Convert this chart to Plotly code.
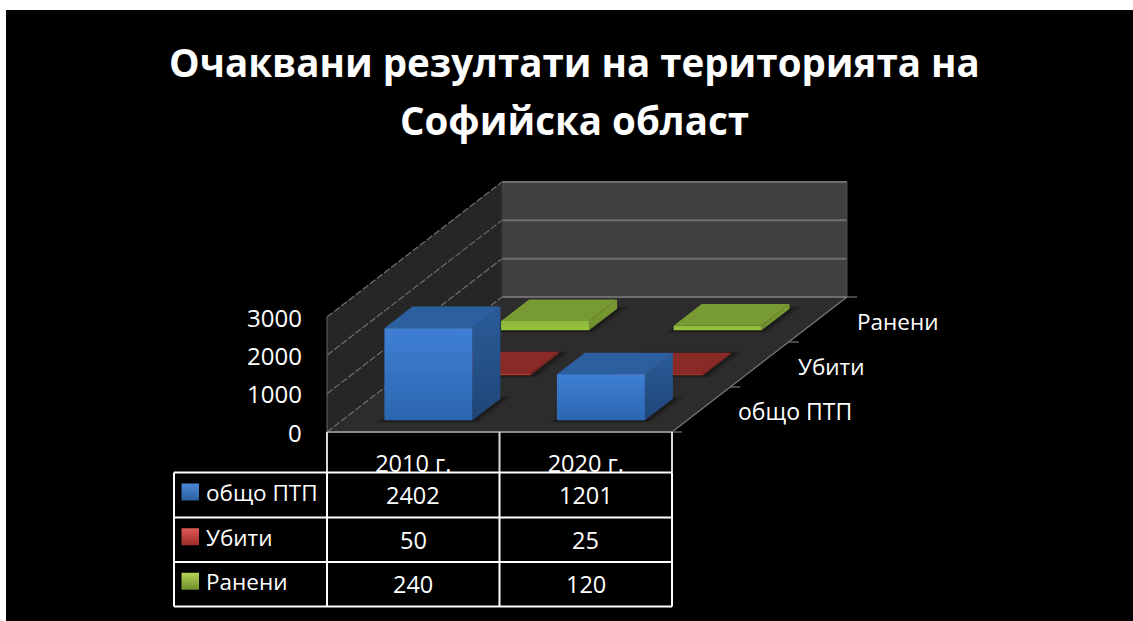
import plotly.graph_objects as go

# ---------- data ----------
categories = ["2010 г.", "2020 г."]
series_names = ["общо ПТП", "Убити", "Ранени"]
obshto_ptp = [2402, 1201]
ubiti = [50, 25]
raneni = [240, 120]
value_ticks = [0, 1000, 2000, 3000]

all_values = [obshto_ptp, ubiti, raneni]
title_lines = ["Очаквани резултати на територията на", "Софийска област"]

# ---------- style ----------
FONT = "Open Sans"
series_style = [
    dict(top="#2b5f9f", s1="#2a5c98", s2="#1f4678", f1="#3f80d4", f2="#2b66b0", key1="#4a8ad8", key2="#2a5f9f"),
    dict(top="#8a2a27", s1="#7a2422", s2="#6e211f", f1="#c8402f", f2="#a83228", key1="#e05a55", key2="#9c2c2a"),
    dict(top="#789a32", s1="#7a9c34", s2="#6f8f2d", f1="#8db73b", f2="#96c440", key1="#b4d455", key2="#6f8f2c"),
]

# oblique projection parameters (page pixels)
X0, Y0 = 327.0, 432.0
BAND_W = 172.5
DX, DY = 175.0, -135.0
VAL_H = 115.0
VMAX = 3000.0
BAR_W = 0.51
BAR_D = 0.48


def proj(cat, depth, val):
    """cat in category bands, depth in series bands, val in data units."""
    return (X0 + cat * BAND_W + depth / 3 * DX,
            Y0 + depth / 3 * DY - val / VMAX * VAL_H)


fig = go.Figure()


def poly(pts, color=None, grad=None):
    xs = [p[0] for p in pts] + [pts[0][0]]
    ys = [p[1] for p in pts] + [pts[0][1]]
    kw = dict(fillcolor=color) if color else dict(
        fillgradient=dict(type="vertical", colorscale=[[0, grad[0]], [1, grad[1]]]))
    fig.add_trace(go.Scatter(x=xs, y=ys, mode="lines", fill="toself", line=dict(width=0),
                             hoverinfo="skip", showlegend=False, **kw))


def line(pts, color, width=1.5, dash=None):
    fig.add_trace(go.Scatter(x=[p[0] for p in pts], y=[p[1] for p in pts], mode="lines",
                             line=dict(color=color, width=width, dash=dash),
                             hoverinfo="skip", showlegend=False))


n_cat, n_ser = len(categories), len(series_names)
vtop = value_ticks[-1]

# walls and floor
poly([proj(0, n_ser, 0), proj(n_cat, n_ser, 0), proj(n_cat, n_ser, vtop), proj(0, n_ser, vtop)], "#404040")
poly([proj(0, 0, 0), proj(0, n_ser, 0), proj(0, n_ser, vtop), proj(0, 0, vtop)], "#262626")
poly([proj(0, 0, 0), proj(n_cat, 0, 0), proj(n_cat, n_ser, 0), proj(0, n_ser, 0)], "#2c2c2c")

GRID = "#6e6e6e"
for v in value_ticks:
    line([proj(0, 0, v), proj(0, n_ser, v)], GRID, 1.2, "7px,2px")
    line([proj(0, n_ser, v), proj(n_cat, n_ser, v)], GRID, 2)
line([proj(0, 0, 0), proj(0, 0, vtop)], "#5a5a5a", 1.2)
line([proj(0, n_ser, 0), proj(0, n_ser, vtop)], "#3a3a3a", 1)
line([proj(n_cat, n_ser, 0), proj(n_cat, n_ser, vtop)], "#4a4a4a", 1)
line([proj(0, 0, 0), proj(n_cat, 0, 0)], "#8a8a8a", 2)
line([proj(n_cat, 0, 0), proj(n_cat, n_ser, 0)], "#7a7a7a", 1.2)

# depth ticks
for s in range(n_ser + 1):
    x, y = proj(n_cat, s, 0)
    line([(x, y), (x + 10, y)], "#777777", 1.2)

# bars, back to front
for s in reversed(range(n_ser)):
    st = series_style[s]
    for c in range(n_cat):
        val = all_values[s][c]
        cl = c + (1 - BAR_W) / 2
        cr = cl + BAR_W
        df = s + (1 - BAR_D) / 2
        db = df + BAR_D
        # soft floor shadow
        for grow, alpha in ((0.05, 0.18), (0.025, 0.25)):
            poly([proj(cl - grow / 2, df - grow, 0), proj(cr + grow, df - grow, 0),
                  proj(cr + grow, db + grow, 0), proj(cl - grow / 2, db + grow, 0)],
                 f"rgba(0,0,0,{alpha})")
        poly([proj(cr, df, 0), proj(cr, db, 0), proj(cr, db, val), proj(cr, df, val)],
             grad=(st["s2"], st["s1"]))
        poly([proj(cl, df, val), proj(cr, df, val), proj(cr, db, val), proj(cl, db, val)], st["top"])
        poly([proj(cl, df, 0), proj(cr, df, 0), proj(cr, df, val), proj(cl, df, val)],
             grad=(st["f2"], st["f1"]))

# category labels (clipped by the table's top edge, as in the reference)
TX = [X0 + i * BAND_W for i in range(n_cat + 1)]
TL = 174.0
ROW_Y = [472.5, 517.5, 562.0, 606.5]
fig.add_trace(go.Scatter(
    x=[TX[i] + BAND_W / 2 for i in range(n_cat)], y=[466] * n_cat, mode="text",
    text=categories, textfont=dict(family=FONT, size=23.5, color="white"),
    textposition="middle center", hoverinfo="skip", showlegend=False, cliponaxis=False))

# legend keys inside the table
for s, st in enumerate(series_style):
    yc = (ROW_Y[s] + ROW_Y[s + 1]) / 2 - 3
    poly([(181.5, yc + 8.5), (199, yc + 8.5), (199, yc - 8.5), (181.5, yc - 8.5)],
         grad=(st["key2"], st["key1"]))

shapes = [dict(type="rect", xref="x", yref="y", x0=6, x1=1133, y0=10, y1=621,
               fillcolor="black", line_width=0, layer="below"),
          dict(type="rect", xref="x", yref="y", x0=TX[0], x1=TX[-1], y0=ROW_Y[0], y1=ROW_Y[0] + 9,
               fillcolor="black", line_width=0, layer="above")]
for x in TX:
    shapes.append(dict(type="line", xref="x", yref="y", x0=x, x1=x, y0=Y0, y1=ROW_Y[0],
                       line=dict(color="#d8d8d8", width=2), layer="above"))
for y in ROW_Y:
    shapes.append(dict(type="line", xref="x", yref="y", x0=TL, x1=TX[-1], y0=y, y1=y,
                       line=dict(color="white", width=2), layer="above"))
for x in [TL] + TX:
    shapes.append(dict(type="line", xref="x", yref="y", x0=x, x1=x, y0=ROW_Y[0], y1=ROW_Y[-1],
                       line=dict(color="white", width=2), layer="above"))

ann = []


def text(x, y, s, size, anchor="center", bold=False, color="white"):
    ann.append(dict(x=x, y=y, xref="x", yref="y", text=f"<b>{s}</b>" if bold else s, showarrow=False,
                    xanchor=anchor, yanchor="middle", font=dict(family=FONT, size=size, color=color)))


text(574, 62, title_lines[0], 38.5, bold=True)
text(574, 120, title_lines[1], 38.5, bold=True)

for v in value_ticks:
    text(304, Y0 - v / VMAX * VAL_H, str(v), 24, "right")

series_label_pos = [(854, 411), (866, 366), (940, 321)]
for s, (x, y) in enumerate(series_label_pos):
    text(x, y, series_names[s], 23 if s == 0 else 22.5, "right")

for s in range(n_ser):
    yc = (ROW_Y[s] + ROW_Y[s + 1]) / 2
    text(203.5, yc - 2.5, series_names[s], 22.5, "left")
    for c in range(n_cat):
        text(TX[c] + BAND_W / 2, yc, str(all_values[s][c]), 23.5)

fig.update_layout(
    width=1133, height=621, margin=dict(l=0, r=0, t=0, b=0),
    paper_bgcolor="white", plot_bgcolor="rgba(0,0,0,0)", showlegend=False,
    xaxis=dict(range=[0, 1133], visible=False, fixedrange=True),
    yaxis=dict(range=[621, 0], visible=False, fixedrange=True),
    shapes=shapes, annotations=ann,
)
fig.write_html("out.html", config=dict(displayModeBar=False),
               post_script="document.body.style.margin='0';document.body.style.overflow='hidden';")
